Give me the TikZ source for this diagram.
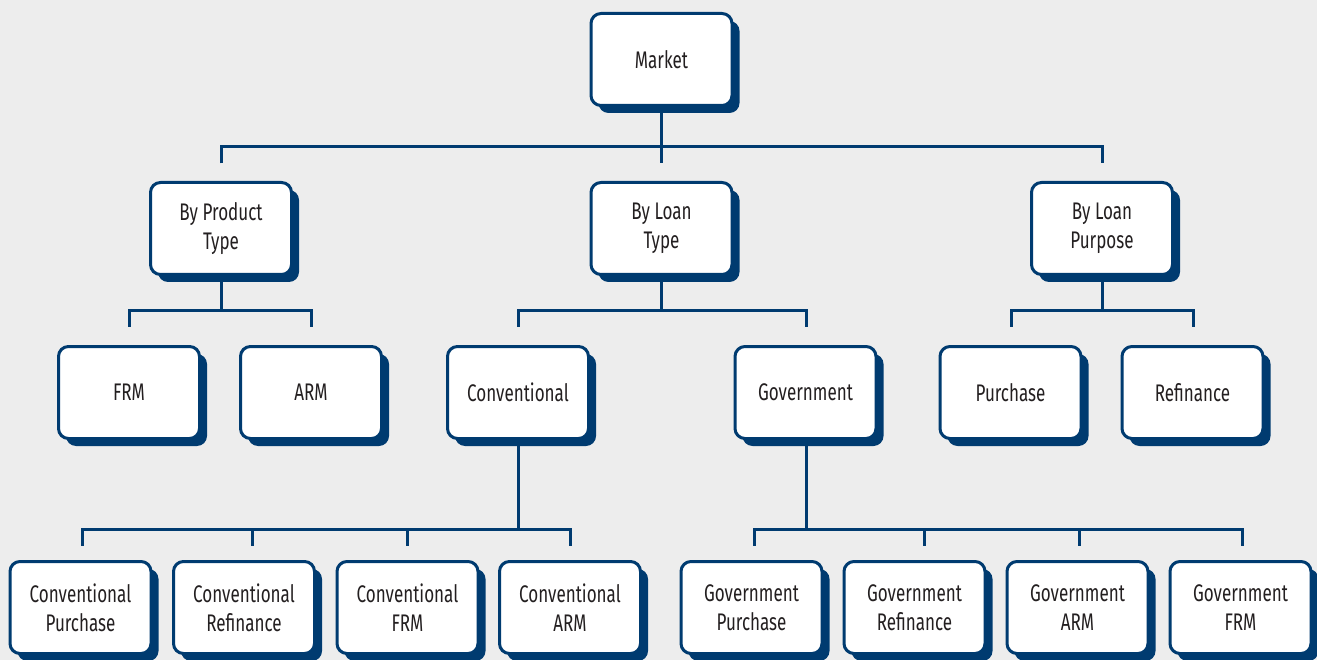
\documentclass[tikz,border=0pt]{standalone}
\usepackage{fontspec}
\setmainfont{Fira Sans}[FakeStretch=0.71]
\usetikzlibrary{shadows,calc}
\definecolor{navy}{RGB}{0,59,112}
\definecolor{bgc}{RGB}{237,237,237}
\definecolor{txt}{RGB}{35,31,32}
\begin{document}
\begin{tikzpicture}[x=1pt,y=-1pt,
  box/.style={draw=navy, line width=3pt, fill=white, rounded corners=10pt,
    minimum width=141pt, minimum height=92pt, inner sep=2pt, align=center,
    text=txt, font=\fontsize{24}{29}\selectfont,
    drop shadow={shadow xshift=7.5pt, shadow yshift=-7.5pt, fill=navy, opacity=1}},
  conn/.style={draw=navy, line width=3pt, line join=miter}]
\fill[bgc] (0,0) rectangle (1317,660);
\useasboundingbox (0,0) rectangle (1317,660);

% level 1
\node[box] (market) at (661.5,59.5) {Market};
% level 2
\node[box] (bpt) at (221,228.5) {By Product\\Type};
\node[box] (blt) at (661.5,228.5) {By Loan\\Type};
\node[box] (blp) at (1102,228.5) {By Loan\\Purpose};
% level 3
\node[box] (frm) at (129,392.5) {FRM};
\node[box] (arm) at (311,392.5) {ARM};
\node[box] (conv) at (518,392.5) {Conventional};
\node[box] (gov) at (805.5,392.5) {Government};
\node[box] (pur) at (1010.5,392.5) {Purchase};
\node[box] (ref) at (1192.5,392.5) {Refinance};
% level 4
\node[box] (cp) at (80.5,607.5) {Conventional\\Purchase};
\node[box] (cr) at (244,607.5) {Conventional\\Refinance};
\node[box] (cf) at (407.5,607.5) {Conventional\\FRM};
\node[box] (ca) at (570,607.5) {Conventional\\ARM};
\node[box] (gp) at (751.5,607.5) {Government\\Purchase};
\node[box] (gr) at (914.5,607.5) {Government\\Refinance};
\node[box] (ga) at (1077.5,607.5) {Government\\ARM};
\node[box] (gf) at (1240.5,607.5) {Government\\FRM};

% buses
\coordinate (b1) at (661.5,147);
\coordinate (b2) at (221,311);
\coordinate (b3) at (518,311);
\coordinate (b4) at (1102,311);
\coordinate (b5) at (518,529);
\coordinate (b6) at (806,529);

% market -> level 2
\draw[conn] (market.south) -- (b1);
\draw[conn] ([yshift=17.5pt]bpt.north) |- (b1) -| ([yshift=17.5pt]blp.north);
\draw[conn] (b1) -- ([yshift=17.5pt]blt.north);

% level 2 -> level 3
\draw[conn] (bpt.south) -- (b2);
\draw[conn] ([yshift=18.5pt]frm.north) |- (b2) -| ([yshift=18.5pt]arm.north);
\draw[conn] ([yshift=18.5pt]conv.north) |- (b3) -| ([xshift=0.5pt,yshift=18.5pt]gov.north);
\draw[conn] (blt.south) -- (blt.south |- b3);
\draw[conn] (blp.south) -- (b4);
\draw[conn] ([xshift=0.5pt,yshift=18.5pt]pur.north) |- (b4) -| ([xshift=0.5pt,yshift=18.5pt]ref.north);

% level 3 -> level 4
\draw[conn] (conv.south) -- (b5);
\draw[conn] ([xshift=1.5pt,yshift=14.5pt]cp.north) |- (b5) -| ([yshift=14.5pt]ca.north);
\draw[conn] ([xshift=8pt,yshift=14.5pt]cr.north) -- ([xshift=8pt]cr.north |- b5);
\draw[conn] ([yshift=14.5pt]cf.north) -- (cf.north |- b5);
\draw[conn] ([xshift=0.5pt]gov.south) -- (b6);
\draw[conn] ([xshift=2.5pt,yshift=14.5pt]gp.north) |- (b6) -| ([xshift=1.5pt,yshift=14.5pt]gf.north);
\draw[conn] ([xshift=9.5pt,yshift=14.5pt]gr.north) -- ([xshift=9.5pt]gr.north |- b6);
\draw[conn] ([xshift=1.5pt,yshift=14.5pt]ga.north) -- ([xshift=1.5pt]ga.north |- b6);
\end{tikzpicture}
\end{document}
